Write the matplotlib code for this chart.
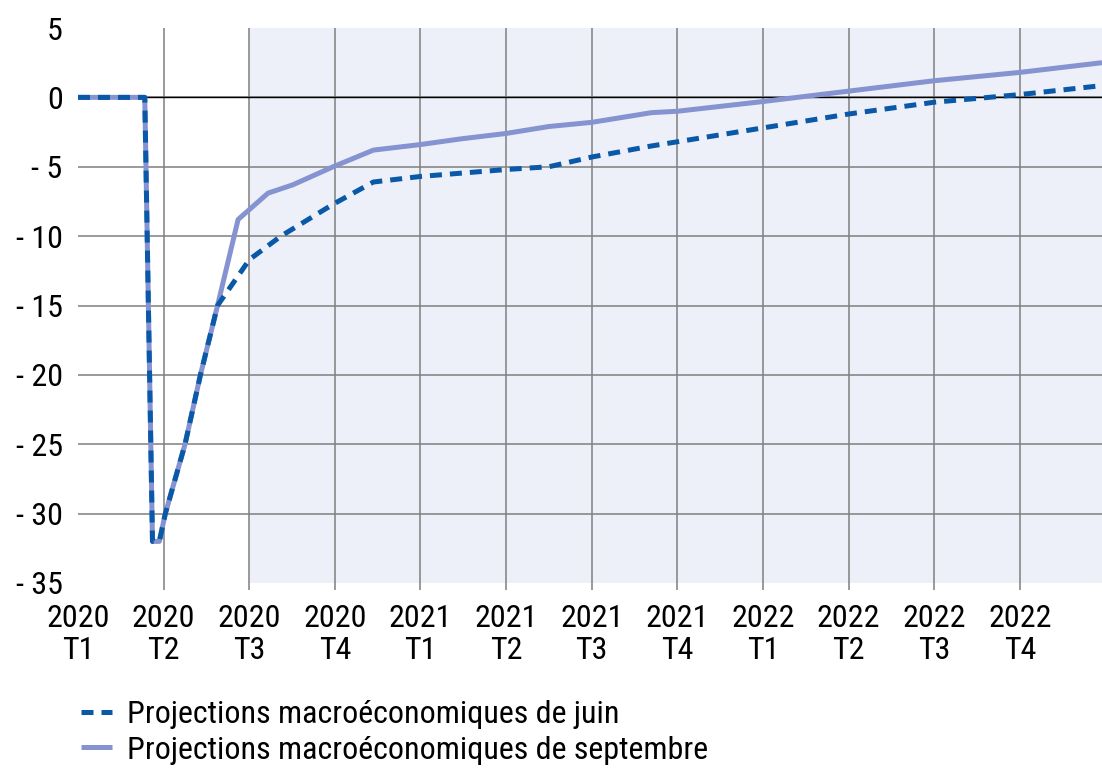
import matplotlib
matplotlib.use("Agg")
import matplotlib.pyplot as plt

# data (x in quarters from 2020 T1)
quarter_labels = ["2020\nT1", "2020\nT2", "2020\nT3", "2020\nT4",
                  "2021\nT1", "2021\nT2", "2021\nT3", "2021\nT4",
                  "2022\nT1", "2022\nT2", "2022\nT3", "2022\nT4"]

june_x = [0, 0.78, 0.87, 0.95, 1.02, 1.25, 1.43, 1.63, 1.9, 2.0, 2.37,
          2.98, 3.45, 4.0, 5.0, 5.5, 6.0, 6.7, 7.0, 8.0, 9.0, 10.0, 11.0, 11.96]
june_y = [0, 0, -32, -32, -30, -25, -20, -15, -12.6, -11.7, -10,
          -7.7, -6.1, -5.7, -5.2, -5.0, -4.3, -3.5, -3.2, -2.2, -1.2, -0.35, 0.2, 0.85]

sept_x = [0, 0.78, 0.87, 0.95, 1.02, 1.25, 1.43, 1.63, 1.87, 2.22, 2.51,
          2.98, 3.45, 4.0, 4.46, 5.0, 5.5, 6.0, 6.7, 7.0, 8.0, 9.0, 10.0, 11.0, 11.96]
sept_y = [0, 0, -32, -32, -30, -25, -20, -15, -8.8, -6.9, -6.3,
          -5.0, -3.8, -3.4, -3.0, -2.6, -2.1, -1.8, -1.1, -1.0, -0.3, 0.45, 1.2, 1.8, 2.5]

june_label = "Projections macroéconomiques de juin"
sept_label = "Projections macroéconomiques de septembre"

plt.rcParams['font.family'] = ['Roboto Condensed', 'Liberation Sans', 'DejaVu Sans']

fig = plt.figure(figsize=(11.02, 7.68), dpi=100)
ax = fig.add_axes([78 / 1102, 1 - 583 / 768, 1 - 78 / 1102, (583 - 28) / 768])

# projection period shading
ax.axvspan(2, 12, color='#edf0f8', zorder=0, lw=0)

ax.plot(sept_x, sept_y, color='#8593d0', lw=3.6, solid_capstyle='butt',
        label=sept_label, zorder=3)
ax.plot(june_x, june_y, color='#0a58a8', lw=3.6, dashes=(2.4, 1.6),
        label=june_label, zorder=4)

ax.axhline(0, color='black', lw=1.0, zorder=2)

ax.set_xlim(0, 11.96)
ax.set_ylim(-35, 5)
ax.set_xticks(range(12))
ax.set_xticklabels(quarter_labels, fontsize=23, linespacing=1.15)
yticks = list(range(5, -40, -5))
ax.set_yticks(yticks)
ax.set_yticklabels([str(v) if v >= 0 else "- " + str(-v) for v in yticks], fontsize=23)

ax.grid(True, color='#7f7f7f', lw=1.1, zorder=1)
ax.set_axisbelow(True)
ax.tick_params(axis='y', length=0, pad=11)
ax.tick_params(axis='x', length=5, color='#7f7f7f', width=1.1, pad=10)
for s in ax.spines.values():
    s.set_visible(False)

# no gridline / tick at first quarter, no horizontal lines at 5 and -35
ax.xaxis.get_gridlines()[0].set_visible(False)
ax.xaxis.get_major_ticks()[0].tick1line.set_visible(False)
ax.yaxis.get_gridlines()[0].set_visible(False)
ax.yaxis.get_gridlines()[-1].set_visible(False)

handles, labels = ax.get_legend_handles_labels()
fig.legend(handles[::-1], labels[::-1], loc='lower left', bbox_to_anchor=(0.047, -0.033),
           frameon=False, fontsize=23, handlelength=1.0, handletextpad=0.45,
           labelspacing=0.2)

fig.savefig("out.png", dpi=100)
